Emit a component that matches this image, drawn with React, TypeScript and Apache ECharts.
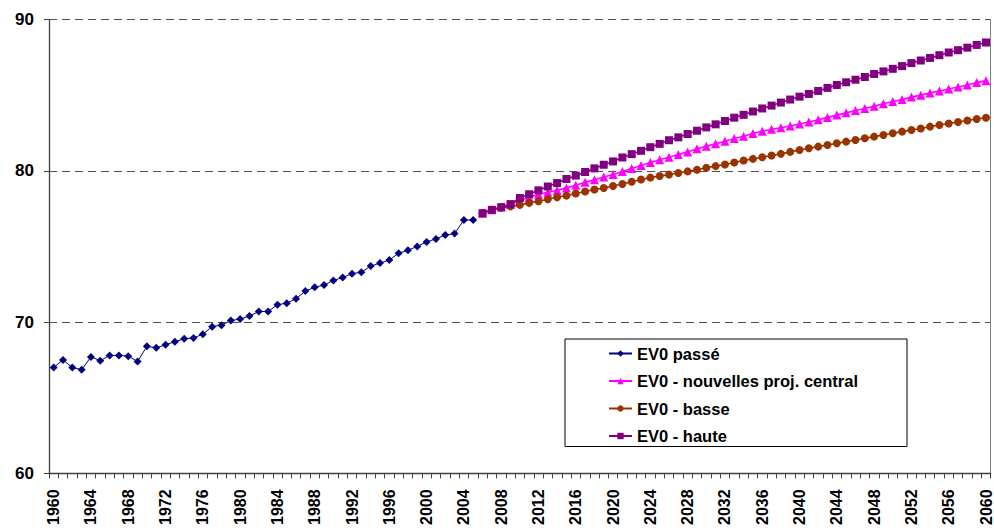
import React, { useEffect, useRef } from "react";
import * as echarts from "echarts";

const startYear = 1960;
const endYear = 2060;
const years: string[] = [];
for (let y = startYear; y <= endYear; y++) years.push(String(y));

// EV0 passé : 1960 – 2005
const passe = [
  67.0, 67.5, 67.0, 66.85, 67.7, 67.45, 67.8, 67.8, 67.75, 67.4,
  68.4, 68.3, 68.5, 68.7, 68.9, 68.95, 69.2, 69.7, 69.8, 70.1,
  70.2, 70.4, 70.7, 70.7, 71.15, 71.25, 71.55, 72.05, 72.3, 72.45,
  72.75, 72.95, 73.2, 73.3, 73.7, 73.9, 74.1, 74.55, 74.75, 75.0,
  75.3, 75.5, 75.75, 75.85, 76.75, 76.75,
];

// Projections : 2006 – 2060
const projStart = 2006;
const central = [
  77.2, 77.42, 77.6, 77.78, 78.02, 78.25, 78.45, 78.58, 78.71, 78.87,
  79.04, 79.24, 79.41, 79.59, 79.76, 79.96, 80.15, 80.35, 80.55, 80.73,
  80.9, 81.08, 81.25, 81.45, 81.62, 81.78, 81.95, 82.13, 82.28, 82.46,
  82.61, 82.75, 82.85, 82.96, 83.09, 83.22, 83.37, 83.53, 83.68, 83.83,
  83.99, 84.12, 84.27, 84.43, 84.58, 84.71, 84.87, 85.0, 85.15, 85.28,
  85.41, 85.54, 85.67, 85.83, 85.96,
];
const basse = [
  77.2, 77.42, 77.55, 77.65, 77.75, 77.88, 77.99, 78.12, 78.25, 78.36,
  78.5, 78.63, 78.76, 78.86, 79.0, 79.13, 79.28, 79.43, 79.55, 79.66,
  79.75, 79.85, 79.96, 80.07, 80.2, 80.31, 80.42, 80.55, 80.68, 80.79,
  80.9, 81.01, 81.12, 81.25, 81.38, 81.49, 81.6, 81.71, 81.82, 81.93,
  82.04, 82.15, 82.26, 82.37, 82.48, 82.59, 82.7, 82.8, 82.92, 83.03,
  83.13, 83.22, 83.33, 83.42, 83.51,
];
const haute = [
  77.2, 77.42, 77.6, 77.8, 78.2, 78.45, 78.71, 78.96, 79.19, 79.46,
  79.68, 79.92, 80.16, 80.4, 80.62, 80.88, 81.1, 81.32, 81.56, 81.78,
  82.02, 82.21, 82.43, 82.65, 82.87, 83.07, 83.29, 83.51, 83.7, 83.92,
  84.12, 84.31, 84.51, 84.71, 84.9, 85.08, 85.28, 85.48, 85.67, 85.85,
  86.02, 86.2, 86.4, 86.57, 86.74, 86.92, 87.12, 87.29, 87.46, 87.64,
  87.82, 87.97, 88.14, 88.32, 88.48,
];

const seriesNames = [
  "EV0 passé",
  "EV0 - nouvelles proj. central",
  "EV0 - basse",
  "EV0 - haute",
];

const yTicks = [60, 70, 80, 90];

function fullPast(): (number | null)[] {
  return years.map((_, i) => (i < passe.length ? passe[i] : null));
}
function fullProj(arr: number[]): (number | null)[] {
  const off = projStart - startYear;
  return years.map((_, i) => (i >= off && i - off < arr.length ? arr[i - off] : null));
}

const FONT = "'Liberation Sans', Arial, sans-serif";

export default function App() {
  const ref = useRef<HTMLDivElement>(null);
  useEffect(() => {
    if (!ref.current) return;
    const chart = echarts.init(ref.current, null, { renderer: "svg" });
    const mk = (
      name: string,
      data: (number | null)[],
      color: string,
      symbol: string,
      size: number,
      width: number
    ) => ({
      name,
      type: "line",
      data,
      symbol,
      symbolSize: size,
      showSymbol: true,
      showAllSymbol: true,
      color,
      lineStyle: { color, width },
      itemStyle: { color, borderWidth: 0 },
      emphasis: { disabled: true },
    });
    chart.setOption({
      animation: false,
      backgroundColor: "#ffffff",
      grid: { left: 49, right: 2, top: 19.5, bottom: 52, containLabel: false },
      xAxis: {
        type: "category",
        data: years,
        boundaryGap: true,
        axisLine: { show: true, lineStyle: { color: "#404040", width: 1.3 } },
        axisTick: { show: true, interval: 0, length: 5, lineStyle: { color: "#404040" } },
        axisLabel: {
          interval: 3,
          rotate: 90,
          margin: 16,
          color: "#000",
          fontFamily: FONT,
          fontWeight: "bold",
          fontSize: 16,
        },
        splitLine: { show: false },
      },
      yAxis: [
        {
          type: "value",
          min: yTicks[0],
          max: yTicks[yTicks.length - 1],
          interval: 10,
          axisLine: { show: true, lineStyle: { color: "#404040", width: 1.3 } },
          axisTick: { show: true, length: 5, lineStyle: { color: "#404040" } },
          axisLabel: {
            margin: 15,
            color: "#000",
            fontFamily: FONT,
            fontWeight: "bold",
            fontSize: 17,
          },
          splitLine: {
            show: true,
            lineStyle: { color: "#505050", type: [8, 5], width: 1 },
          },
        },
        {
          type: "value",
          position: "right",
          min: yTicks[0],
          max: yTicks[yTicks.length - 1],
          interval: 10,
          axisLine: { show: true, lineStyle: { color: "#808080", width: 1 } },
          axisTick: { show: false },
          axisLabel: { show: false },
          splitLine: { show: false },
        },
      ],
      legend: {
        show: true,
        orient: "vertical",
        left: 565,
        top: 339,
        padding: [6, 49, 2, 43],
        itemGap: 10.5,
        itemWidth: 23,
        itemHeight: 8,
        backgroundColor: "#ffffff",
        borderColor: "#000000",
        borderWidth: 1,
        borderRadius: 0,
        data: seriesNames,
        textStyle: {
          color: "#000",
          fontFamily: FONT,
          fontWeight: "bold",
          fontSize: 16.5,
          lineHeight: 17,
        },
      },
      series: [
        mk(seriesNames[0], fullPast(), "#000080", "diamond", 8, 1),
        mk(seriesNames[1], fullProj(central), "#FF00FF", "triangle", 9, 1.6),
        mk(seriesNames[2], fullProj(basse), "#993300", "circle", 8, 1.6),
        mk(seriesNames[3], fullProj(haute), "#800080", "rect", 8, 1.6),
      ],
    });
    return () => chart.dispose();
  }, []);
  return (
    <div
      ref={ref}
      style={{ position: "fixed", left: 0, top: 0, width: 994, height: 528 }}
    />
  );
}
